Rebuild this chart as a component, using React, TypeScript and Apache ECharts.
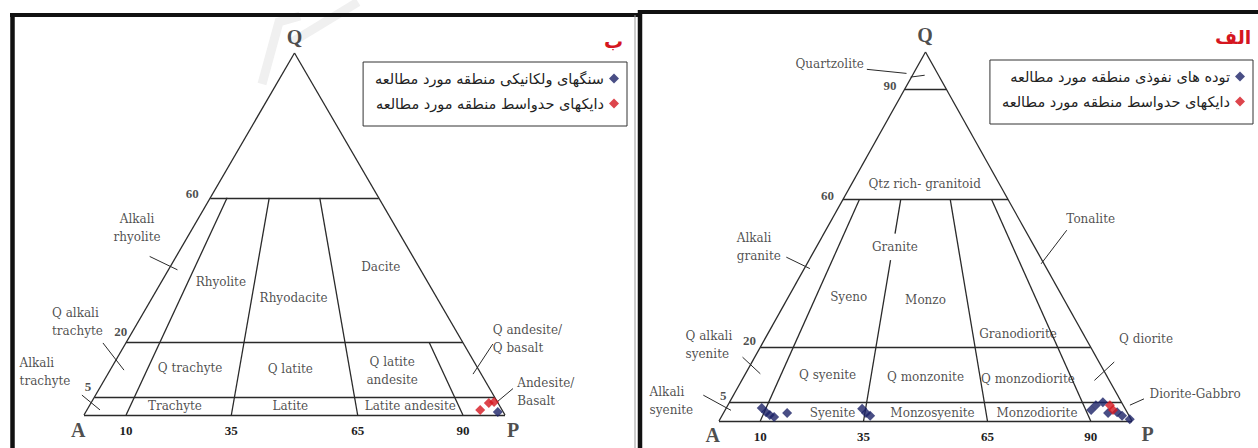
import React, { useEffect, useRef } from 'react';
import * as echarts from 'echarts';

type Tern = [number, number, number]; // [Q, A, P]

// ---------- legend / series names ----------
const volcanicRockName = 'سنگهای ولکانیکی منطقه مورد مطالعه';
const plutonicRockName = 'توده های نفوذی منطقه مورد مطالعه';
const dykeName = 'دایکهای حدواسط منطقه مورد مطالعه';

// ---------- data (Q, A, P) ----------
const volcanicRocks: Tern[] = [[0.8, 1.3, 97.9]];
const volcanicDykes: Tern[] = [
  [1.4, 5.2, 93.4],
  [3.3, 2.2, 94.5],
  [3.6, 0.8, 95.6],
];
const plutonicRocks: Tern[] = [
  [3.5, 87.9, 8.6],
  [2.4, 87.4, 10.2],
  [1.6, 86.9, 11.5],
  [1.1, 86.1, 12.8],
  [2.2, 82.4, 15.4],
  [3.3, 63.7, 33.0],
  [2.2, 63.3, 34.5],
  [1.4, 62.7, 35.9],
  [3.0, 8.4, 88.6],
  [4.3, 6.6, 89.1],
  [5.1, 4.5, 90.4],
  [2.2, 4.7, 93.1],
  [2.4, 2.4, 95.2],
  [1.4, 1.7, 96.9],
  [0.5, 0.3, 99.2],
];
const plutonicDykes: Tern[] = [
  [4.3, 3.2, 92.5],
  [3.0, 3.1, 93.9],
];

// ---------- diagram framework ----------
const baseTicks = [10, 35, 65, 90];
const volcanicQLevels = [60, 20, 5];
const plutonicQLevels = [90, 60, 20, 5];
// [P/(A+P) in %, Q from, Q to]
const volcanicFieldLines = [
  [10, 0, 60],
  [35, 0, 60],
  [65, 0, 60],
  [90, 0, 20],
];
const plutonicFieldLines = [
  [10, 0, 60],
  [35, 0, 43.6],
  [35, 50.8, 60],
  [65, 0, 60],
  [90, 0, 60],
];

// ---------- annotations (diagram coordinates: x = P + Q/2, y = Q) ----------
const volcanicLabels: [string, number, number, string][] = [
  ['Alkali\nrhyolite', 12.6, 51.7, 'center'],
  ['Rhyolite', 32.5, 36.7, 'center'],
  ['Rhyodacite', 49.8, 32.4, 'center'],
  ['Dacite', 70.5, 41.0, 'center'],
  ['Q alkali\ntrachyte', -7.6, 25.7, 'left'],
  ['Q trachyte', 25.2, 13.0, 'center'],
  ['Q latite', 49.0, 12.7, 'center'],
  ['Q latite\nandesite', 73.2, 12.2, 'center'],
  ['Q andesite/\nQ basalt', 97.1, 21.0, 'left'],
  ['Alkali\ntrachyte', -15.3, 12.0, 'left'],
  ['Trachyte', 21.6, 2.5, 'center'],
  ['Latite', 49.0, 2.4, 'center'],
  ['Latite andesite', 77.5, 2.5, 'center'],
  ['Andesite/\nBasalt', 102.9, 6.4, 'left'],
];
const volcanicNumbers: [string, number, number][] = [
  ['60', 25.7, 61.3],
  ['20', 8.7, 23.0],
  ['5', 0.95, 7.8],
];
const volcanicCorners: [string, number, number][] = [
  ['Q', 50, 104.5],
  ['A', -1.4, -4.1],
  ['P', 101.9, -4.1],
];
const volcanicLeaders = [
  [15.6, 43.8, 22.2, 40.1],
  [4.5, 19.9, 9.5, 12.4],
  [97.1, 19.6, 92.4, 11.3],
  [-0.5, 5.5, 3.8, 1.4],
  [101.9, 7.3, 98.1, 3.6],
];

const plutonicLabels: [string, number, number, string][] = [
  ['Quartzolite', 26.8, 96.8, 'center'],
  ['Qtz rich- granitoid', 49.8, 64.3, 'center'],
  ['Tonalite', 90.0, 54.8, 'center'],
  ['Alkali\ngranite', 4.3, 47.2, 'left'],
  ['Granite', 42.6, 47.2, 'center'],
  ['Syeno', 31.4, 33.6, 'center'],
  ['Monzo', 50.0, 32.7, 'center'],
  ['Granodiorite', 72.4, 23.7, 'center'],
  ['Q alkali\nsyenite', -8.1, 20.7, 'left'],
  ['Q diorite', 103.4, 22.3, 'center'],
  ['Q syenite', 26.3, 12.4, 'center'],
  ['Q monzonite', 50.0, 11.9, 'center'],
  ['Q monzodiorite', 74.8, 11.5, 'center'],
  ['Alkali\nsyenite', -16.8, 5.4, 'left'],
  ['Syenite', 27.5, 2.3, 'center'],
  ['Monzosyenite', 51.7, 2.3, 'center'],
  ['Monzodiorite', 77.0, 2.3, 'center'],
  ['Diorite-Gabbro', 115.3, 7.4, 'center'],
];
const plutonicNumbers: [string, number, number][] = [
  ['90', 41.4, 90.8],
  ['60', 26.3, 61.2],
  ['20', 7.4, 21.9],
  ['5', 1.0, 7.0],
];
const plutonicCorners: [string, number, number][] = [
  ['Q', 49.9, 104.6],
  ['A', -1.5, -3.9],
  ['P', 103.8, -3.4],
];
const plutonicLeaders = [
  [35.8, 95.3, 45.4, 94.2],
  [46.4, 93.2, 49.8, 93.7],
  [16.3, 44.4, 22.0, 41.3],
  [84.2, 51.7, 78.0, 42.6],
  [5.7, 17.3, 10.0, 12.8],
  [95.7, 16.0, 90.9, 11.0],
  [-3.8, 7.0, 2.9, 2.9],
  [102.9, 6.0, 99.5, 4.3],
];

const BLUE = '#1c2266';
const RED = '#d5161f';
const INK = '#1e1e1e';

function toXY(t: Tern): [number, number] {
  const [q, a, p] = t;
  const s = q + a + p;
  const Q = (q / s) * 100;
  const P = (p / s) * 100;
  return [P + Q / 2, Q];
}

function boundaryData(levels: number[], fields: number[][]) {
  const segs: number[][][] = [
    [[0, 0], [100, 0]],
    [[0, 0], [50, 100]],
    [[100, 0], [50, 100]],
  ];
  levels.forEach((q) => segs.push([[q / 2, q], [100 - q / 2, q]]));
  fields.forEach(([r, q1, q2]) => {
    const pt = (q: number) => [((100 - q) * r) / 100 + q / 2, q];
    segs.push([pt(q1), pt(q2)]);
  });
  return segs.map((c) => ({ coords: c }));
}

function linesSeries(data: any[], gi: number, width: number) {
  return {
    type: 'lines',
    coordinateSystem: 'cartesian2d',
    xAxisIndex: gi,
    yAxisIndex: gi,
    clip: false,
    silent: true,
    polyline: false,
    lineStyle: { color: '#2a2a2a', width, opacity: 1 },
    data,
    z: 2,
  };
}

function textSeries(items: any[], gi: number, style: any) {
  return {
    type: 'scatter',
    xAxisIndex: gi,
    yAxisIndex: gi,
    clip: false,
    silent: true,
    symbol: 'circle',
    symbolSize: 1,
    itemStyle: { color: 'transparent' },
    emphasis: { disabled: true },
    z: 4,
    data: items.map((it: any[]) => ({
      value: [it[1], it[2]],
      label: {
        show: true,
        position: 'inside',
        formatter: it[0],
        align: it[3] || 'center',
        verticalAlign: 'middle',
        ...style,
      },
    })),
  };
}

function pointSeries(name: string, pts: Tern[], gi: number, color: string) {
  return {
    name,
    type: 'scatter',
    xAxisIndex: gi,
    yAxisIndex: gi,
    clip: false,
    symbol: 'diamond',
    symbolSize: 10,
    itemStyle: { color },
    emphasis: { disabled: true },
    z: 6,
    data: pts.map(toXY),
  };
}

const labelStyle = { fontFamily: 'DejaVu Serif', fontSize: 12, color: INK, lineHeight: 18 };
const numberStyle = { fontFamily: 'Liberation Serif', fontSize: 13, fontWeight: 'bold', color: INK };
const cornerStyle = { fontFamily: 'Liberation Serif', fontSize: 20, fontWeight: 'bold', color: INK };

export default function App() {
  const ref = useRef<HTMLDivElement>(null);

  useEffect(() => {
    if (!ref.current) return;
    const chart = echarts.init(ref.current, undefined, { renderer: 'svg' });

    const axisLabel = {
      margin: 9,
      fontFamily: 'Liberation Serif',
      fontSize: 13,
      fontWeight: 'bold',
      color: INK,
      formatter: (v: number) => (baseTicks.includes(v) ? String(v) : ''),
    };

    const legendCommon = {
      orient: 'vertical',
      align: 'right',
      icon: 'diamond',
      itemWidth: 10,
      itemHeight: 10,
      itemGap: 10,
      padding: [9, 8, 15, 12],
      borderColor: '#333',
      borderWidth: 1,
      selectedMode: false,
      backgroundColor: '#fff',
      textStyle: { fontFamily: 'DejaVu Sans', fontSize: 14.5, color: '#222' },
    };

    const option: any = {
      animation: false,
      backgroundColor: '#fff',
      title: [
        {
          text: 'ب',
          left: 599,
          top: 26,
          textStyle: { fontFamily: 'DejaVu Sans', fontSize: 19, fontWeight: 'bold', color: RED },
        },
        {
          text: 'الف',
          left: 1210,
          top: 22,
          textStyle: { fontFamily: 'DejaVu Sans', fontSize: 19, fontWeight: 'bold', color: RED },
        },
      ],
      legend: [
        { ...legendCommon, data: [volcanicRockName, dykeName], right: 1258 - 627, top: 62 },
        { ...legendCommon, data: [plutonicRockName, dykeName], right: 5, top: 60 },
      ],
      grid: [
        { left: 84, top: 53, width: 421, height: 362 },
        { left: 719, top: 52, width: 413, height: 369 },
      ],
      xAxis: [0, 1].map((i) => ({
        type: 'value',
        gridIndex: i,
        min: 0,
        max: 100,
        interval: 5,
        axisLine: { show: false },
        axisTick: { show: false },
        splitLine: { show: false },
        axisLabel,
      })),
      yAxis: [0, 1].map((i) => ({
        type: 'value',
        gridIndex: i,
        min: 0,
        max: 100,
        show: false,
        splitLine: { show: false },
      })),
      graphic: [
        // faint watermark (below everything else)
        {
          type: 'polyline',
          shape: { points: [[262, 84], [279, 22], [300, 16]] },
          style: { stroke: '#f0f0f0', lineWidth: 9, fill: 'none' },
          z: -1,
        },
        {
          type: 'polyline',
          shape: { points: [[292, 42], [358, 2]] },
          style: { stroke: '#f0f0f0', lineWidth: 9, fill: 'none' },
          z: -1,
        },
        // panel frames
        { type: 'line', shape: { x1: 12.5, y1: 15, x2: 12.5, y2: 448 }, style: { stroke: '#111', lineWidth: 4.5 } },
        { type: 'line', shape: { x1: 10, y1: 15, x2: 638, y2: 15 }, style: { stroke: '#111', lineWidth: 4 } },
        { type: 'line', shape: { x1: 635, y1: 15, x2: 635, y2: 448 }, style: { stroke: '#9a9a9a', lineWidth: 1 } },
        { type: 'line', shape: { x1: 640, y1: 10, x2: 640, y2: 448 }, style: { stroke: '#111', lineWidth: 4.5 } },
        { type: 'line', shape: { x1: 638, y1: 12, x2: 1258, y2: 12 }, style: { stroke: '#111', lineWidth: 4 } },
      ],
      series: [
        linesSeries(boundaryData(volcanicQLevels, volcanicFieldLines), 0, 1.3),
        linesSeries(boundaryData(plutonicQLevels, plutonicFieldLines), 1, 1.3),
        linesSeries(volcanicLeaders.map((l) => ({ coords: [[l[0], l[1]], [l[2], l[3]]] })), 0, 1),
        linesSeries(plutonicLeaders.map((l) => ({ coords: [[l[0], l[1]], [l[2], l[3]]] })), 1, 1),
        textSeries(volcanicLabels, 0, labelStyle),
        textSeries(plutonicLabels, 1, labelStyle),
        textSeries(volcanicNumbers, 0, numberStyle),
        textSeries(plutonicNumbers, 1, numberStyle),
        textSeries(volcanicCorners, 0, cornerStyle),
        textSeries(plutonicCorners, 1, cornerStyle),
        pointSeries(volcanicRockName, volcanicRocks, 0, BLUE),
        pointSeries(dykeName, volcanicDykes, 0, RED),
        pointSeries(plutonicRockName, plutonicRocks, 1, BLUE),
        pointSeries(dykeName, plutonicDykes, 1, RED),
      ],
    };

    chart.setOption(option);
    return () => chart.dispose();
  }, []);

  return (
    <div
      ref={ref}
      style={{ position: 'fixed', left: 0, top: 0, width: 1258, height: 448, background: '#fff' }}
    />
  );
}
